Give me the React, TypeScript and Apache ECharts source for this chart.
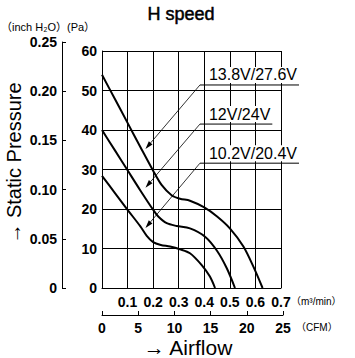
import React, { useEffect, useRef } from 'react';
import * as echarts from 'echarts';

// Airflow (m³/min) and static pressure (Pa) for each supply voltage
const flowHigh = [0, 0.05, 0.1, 0.15, 0.2, 0.233, 0.272, 0.305, 0.344, 0.4, 0.45, 0.5, 0.553, 0.592, 0.628];
const paHigh = [54, 47.9, 41.8, 35.7, 29.7, 26.1, 23.5, 22.6, 22.1, 20.4, 18.1, 15.1, 10.5, 5.4, 0];

const flowMid = [0, 0.05, 0.1, 0.15, 0.2, 0.22, 0.253, 0.292, 0.344, 0.403, 0.449, 0.488, 0.52];
const paMid = [40, 34.9, 29.8, 24.7, 19.8, 18.1, 16.4, 15.7, 15.1, 13, 9.5, 5, 0];

const flowLow = [0, 0.05, 0.1, 0.15, 0.175, 0.2, 0.23, 0.266, 0.305, 0.344, 0.39, 0.422, 0.442];
const paLow = [28.4, 24.1, 19.8, 15.6, 13.2, 11.6, 10.9, 10.5, 9.8, 8.8, 5.8, 2.9, 0];

// Callout texts, the pressure level of each underline and the point each arrow touches
const curveLabels = ['13.8V/27.6V', '12V/24V', '10.2V/20.4V'];
const labelPa = [51.4, 41.5, 31.6];
const labelFlow = 0.383;
const arrowTipPa = [35.2, 25.4, 15.2];
const arrowTipFlow = 0.17;

const PA_PER_INCH_H2O = 249.089;
const M3MIN_PER_CFM = 0.0283168;

const FLOW_MAX = 0.7;
const PA_MAX = 60;
const INCH_MAX = 0.25;
const CFM_MAX = 25;

const TICK_FONT = '"Liberation Sans", Arial, sans-serif';
const CJK_FONT = '"Liberation Sans", "Noto Sans CJK JP", sans-serif';

const zip = (xs: number[], ys: number[]) => xs.map((x, i) => [x, ys[i]]);

export default function App() {
  const ref = useRef<HTMLDivElement>(null);

  useEffect(() => {
    const chart = echarts.init(ref.current!, null, { renderer: 'svg' });
    const plot = { left: 102, top: 51, width: 179, height: 237 };
    const bottom = plot.top + plot.height;
    const inchHeight = (plot.height * (INCH_MAX * PA_PER_INCH_H2O)) / PA_MAX;
    const cfmWidth = (plot.width * (CFM_MAX * M3MIN_PER_CFM)) / FLOW_MAX;

    const tickLabel = {
      color: '#000',
      fontFamily: TICK_FONT,
      fontWeight: 'bold' as const,
      fontSize: 14,
    };
    const black = { color: '#000', width: 1 };

    const curve = (name: string, xs: number[], ys: number[]) => ({
      name,
      type: 'line',
      xAxisIndex: 0,
      yAxisIndex: 0,
      data: zip(xs, ys),
      smooth: 0.3,
      showSymbol: false,
      lineStyle: { color: '#000', width: 2 },
      z: 5,
    });

    chart.setOption({
      animation: false,
      backgroundColor: '#fff',
      grid: [
        { left: plot.left, top: plot.top, width: plot.width, height: plot.height },
        { left: 62, top: bottom - inchHeight, width: 1, height: inchHeight },
        { left: plot.left, top: 300, width: cfmWidth, height: 15 },
      ],
      xAxis: [
        {
          gridIndex: 0,
          type: 'value',
          min: 0,
          max: FLOW_MAX,
          interval: 0.1,
          axisLine: { show: true, lineStyle: black },
          axisTick: { show: false },
          axisLabel: {
            ...tickLabel,
            margin: 7,
            formatter: (v: number) => (v === 0 ? '' : v.toFixed(1)),
          },
          splitLine: { show: true, lineStyle: black },
        },
        { gridIndex: 1, type: 'value', min: 0, max: 1, show: false },
        {
          gridIndex: 2,
          type: 'value',
          position: 'bottom',
          min: 0,
          max: CFM_MAX,
          interval: 5,
          axisLine: { show: true, lineStyle: black },
          axisTick: { show: true, inside: true, length: 4, lineStyle: black },
          axisLabel: { ...tickLabel, margin: 6 },
          splitLine: { show: false },
        },
      ],
      yAxis: [
        {
          gridIndex: 0,
          type: 'value',
          min: 0,
          max: PA_MAX,
          interval: 10,
          axisLine: { show: true, lineStyle: black },
          axisTick: { show: false },
          axisLabel: { ...tickLabel, margin: 5 },
          splitLine: { show: true, lineStyle: black },
        },
        {
          gridIndex: 1,
          type: 'value',
          min: 0,
          max: INCH_MAX,
          interval: 0.05,
          axisLine: { show: true, lineStyle: black },
          axisTick: { show: true, inside: true, length: 4, lineStyle: black },
          axisLabel: {
            ...tickLabel,
            margin: 5,
            formatter: (v: number) => (v === 0 ? '0' : v.toFixed(2)),
          },
          splitLine: { show: false },
        },
        { gridIndex: 2, type: 'value', min: 0, max: 1, show: false },
      ],
      series: [
        curve('13.8V/27.6V', flowHigh, paHigh),
        curve('12V/24V', flowMid, paMid),
        curve('10.2V/20.4V', flowLow, paLow),
      ],
    });

    // Callouts: underlined voltage label with a leader line ending in an arrowhead
    const labelFont = '16px "Liberation Sans", Arial, sans-serif';
    const ctx = document.createElement('canvas').getContext('2d')!;
    ctx.font = labelFont;
    const callouts: any[] = [];
    curveLabels.forEach((text, i) => {
      const [ex, ey] = chart.convertToPixel({ gridIndex: 0 }, [labelFlow, labelPa[i]]) as number[];
      const [tx, ty] = chart.convertToPixel({ gridIndex: 0 }, [arrowTipFlow, arrowTipPa[i]]) as number[];
      const textLeft = ex + 8;
      const textWidth = ctx.measureText(text).width;
      const dx = tx - ex;
      const dy = ty - ey;
      const len = Math.hypot(dx, dy);
      const ux = dx / len;
      const uy = dy / len;
      const headLen = 8;
      const headHalf = 2.4;
      const bx = tx - ux * headLen;
      const by = ty - uy * headLen;
      callouts.push(
        {
          type: 'text',
          z: 20,
          x: textLeft,
          y: ey - 2,
          style: {
            text,
            fill: '#000',
            font: labelFont,
            align: 'left',
            verticalAlign: 'bottom',
            backgroundColor: '#fff',
            padding: [0, 1, 0, 1],
          },
        },
        {
          type: 'line',
          z: 20,
          shape: { x1: ex, y1: ey, x2: textLeft + textWidth + 3, y2: ey },
          style: { stroke: '#000', lineWidth: 1 },
        },
        {
          type: 'line',
          z: 20,
          shape: { x1: ex, y1: ey, x2: bx, y2: by },
          style: { stroke: '#000', lineWidth: 0.8 },
        },
        {
          type: 'polygon',
          z: 20,
          shape: {
            points: [
              [tx, ty],
              [bx - uy * headHalf, by + ux * headHalf],
              [bx + uy * headHalf, by - ux * headHalf],
            ],
          },
          style: { fill: '#000' },
        }
      );
    });

    chart.setOption({
      graphic: [
        {
          type: 'text',
          x: 181,
          y: 14,
          style: {
            text: 'H speed',
            fill: '#000',
            stroke: '#000',
            lineWidth: 0.5,
            font: '18px "Liberation Sans", Arial, sans-serif',
            align: 'center',
            verticalAlign: 'middle',
          },
        },
        {
          type: 'text',
          x: 1,
          y: 27,
          style: {
            text: '（inch H₂O）(Pa）',
            fill: '#000',
            font: `11px ${CJK_FONT}`,
            align: 'left',
            verticalAlign: 'middle',
          },
        },
        {
          type: 'text',
          x: 291,
          y: 301,
          style: {
            text: '（m³/min）',
            fill: '#000',
            font: `10px ${CJK_FONT}`,
            align: 'left',
            verticalAlign: 'middle',
          },
        },
        {
          type: 'text',
          x: 296,
          y: 327,
          style: {
            text: '（CFM）',
            fill: '#000',
            font: `10px ${CJK_FONT}`,
            align: 'left',
            verticalAlign: 'middle',
          },
        },
        {
          type: 'text',
          x: 14,
          y: 163,
          rotation: Math.PI / 2,
          style: {
            text: '→ Static Pressure',
            fill: '#000',
            font: '20px "Liberation Sans", "DejaVu Sans", sans-serif',
            align: 'center',
            verticalAlign: 'middle',
          },
        },
        {
          type: 'text',
          x: 188,
          y: 347,
          style: {
            text: '→ Airflow',
            fill: '#000',
            font: '21px "Liberation Sans", "DejaVu Sans", sans-serif',
            align: 'center',
            verticalAlign: 'middle',
          },
        },
        ...callouts,
      ],
    });

    return () => chart.dispose();
  }, []);

  return (
    <div
      ref={ref}
      style={{ position: 'absolute', left: 0, top: 0, width: 355, height: 358 }}
    />
  );
}
